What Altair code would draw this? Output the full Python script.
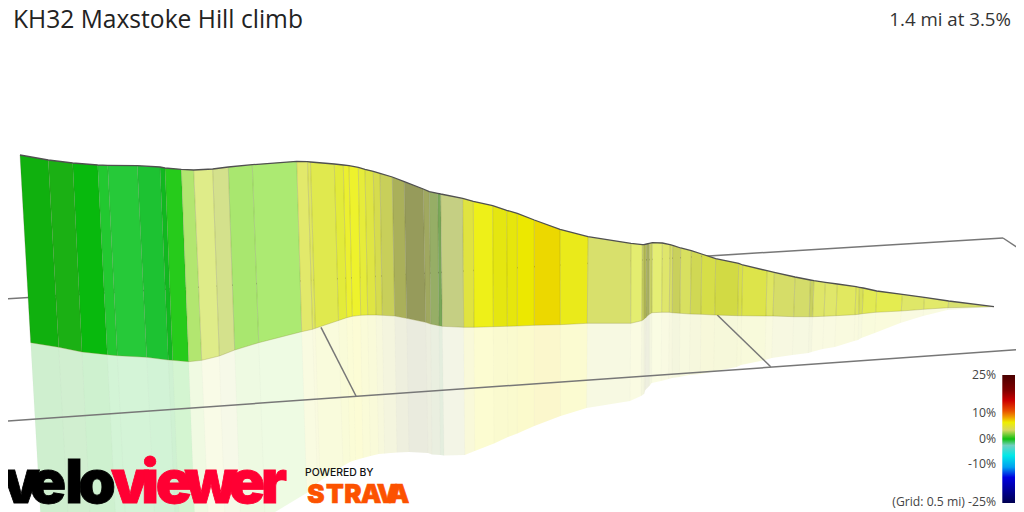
import altair as alt
import pandas as pd

TITLE = "KH32 Maxstoke Hill climb"
SUBTITLE = "1.4 mi at 3.5%"

XT = [20,48.3,72.7,97.7,107.7,137.3,160,165,181.3,193.7,212.7,228.3,252.3,296.7,307.5,310.5,334.3,343.3,349,358.3,365,373.3,380,392.3,404.3,423.3,429.3,437.7,440.7,462.7,473.3,492.7,506.7,517.3,534.3,560,588,631,642.3,644,646.7,649.3,652.3,662.3,670,672.7,680.7,691.3,701.7,715.7,738.7,742.7,767,774.3,795,810.3,814,825.3,837.3,856,859.3,863.3,876.7,902.3,924.3,948.7,994]
YT = [155,160,163,165,165.3,165.7,167,168,169.3,170,169,167,164.7,161.3,161.7,162,164,165,165.7,167.3,169.3,171.3,173.3,177,181.7,189,191.7,193.3,194,198.3,201.3,205.7,210.3,213.3,220,229.3,236.7,243.3,244.7,244.7,244,243.3,242.7,243,244.7,245.3,248,250.7,254,258.7,263.3,265,270.7,272.3,277,280,280.7,282.3,284,286.7,287.3,288,291,294.3,297.3,301,306.7]
XB = [30.7,58.7,82,107.3,117.3,146.7,168.3,172.7,188.7,201.7,219.3,234.7,258.7,301.7,312.5,315.3,338.5,346.7,352.3,360.7,367.7,376,382.3,394.7,406.7,425.7,430.7,439,442.3,463.7,474,493.3,507.3,517.3,534.3,560.3,587.3,630.7,641.7,644,646,649.3,652,661.7,669.3,672.3,680,690.3,701,714.7,737.7,741.7,766,773,793.7,809.3,812.7,824,836,855,858.7,862.3,875.7,901.3,923.7,948,994]
YB = [342.7,347.3,352,354.7,355.7,357.3,360,360.3,361.7,360.3,356,350,342.7,331.7,329.3,328.3,320.5,317.7,316.3,315.3,315,315,315.3,316,318.3,322.3,324,325.7,326.3,327.3,327.3,326.7,326.3,326,325.3,324.7,323.3,323.3,320.7,319.3,317.3,314.3,312.7,312.3,312.3,312.7,313.3,314,314.3,315,315.7,315.7,316,316,316.7,316.7,316.7,316.3,315.7,314.7,314.3,313.7,312.3,311,309.3,307.7,306.7]
XR = [41.4,69.1,91.3,116.9,126.9,156.1,176.6,180.4,196.1,209.7,225.9,241.1,265.1,306.7,317.5,320,343,350,355.6,363,370.4,378.7,384.6,397,409,428,432,440.3,444,464.7,474.7,494,508,517.3,534.3,560.6,586.6,630,641,644,645.3,649.3,651.7,661,668.6,672,679.3,689.3,700.3,713.7,736.7,741,765,771.7,792.4,808.3,811.4,822.7,834.7,854,858,861.3,874.7,900.3,923,947.3,994]
YR = [530.4,534.6,541,544.4,546.1,548.9,553,552.6,554.1,550.6,543,533,518,493,483,481,466,462,460,458,456,454,453.5,452.5,452,453,454.5,455,455.5,455,451,443.5,437,433.5,426,416,408,401,396,394,390,386,383,381,379,378,377,375,374,371.5,367,365,360,358,355,353,352,349,347,341,340,338,333,323,316,310,306.7]
COLS = ["#10b00e","#1bb014","#08b90d","#22c830","#26c939","#1dc232","#10b91f","#26cb1b","#b2e670","#dfec89","#d4e18c","#a9e76f","#acea72","#e2e96b","#dfe660","#e0e94e","#e3eb3a","#ecf030","#eef22c","#e6ec3a","#dfe543","#d6dc4e","#c8cf5a","#aab05a","#969b5b","#a0a860","#96ae66","#78a858","#c5cf83","#e0e340","#eef018","#e5e610","#e6e60c","#ece800","#ecd800","#eaea1a","#d8e06c","#e4ed70","#c8d060","#b4bb58","#a8b060","#c8d066","#e5ee74","#dfe66c","#d8de66","#c9d05c","#d8e060","#d0d854","#d6de48","#d2da44","#d9e048","#dde44a","#dfe660","#d6dd68","#d4dc6a","#c8d060","#dfe668","#e0e76a","#e1e860","#dfe65c","#d8e058","#e2ea52","#e4ec50","#dfe768","#e2e96a","#d8e070"]

GRID_X1 = [0, 1003, 0, 321, 717.3]
GRID_Y1 = [299.3, 238, 421.5, 327.3, 315]
GRID_X2 = [1003, 1024, 1024, 356, 770.7]
GRID_Y2 = [238, 252, 349.3, 396, 366.7]

LEG_LABELS = ["25%", "10%", "0%", "-10%", "(Grid: 0.5 mi) -25%"]
LEG_Y = [375, 413, 439, 464, 502]
GRAD_OFFSETS = [0, 0.12, 0.2, 0.28, 0.33, 0.37, 0.43, 0.5, 0.55, 0.63, 0.72, 0.8, 1]
GRAD_COLORS = ["#4a0000", "#800000", "#cc0000", "#e85000", "#f0a000", "#eeee00", "#d8d860", "#10c010", "#70d0c0", "#00e8e8", "#00a0f0", "#0000e0", "#000050"]

VELO = list("velo")
VELO_X = [21, 48, 74, 97]
VIEWER = list("viewer")
VIEWER_X = [130, 150, 174, 211, 247, 274]
STRAVA = list("STRAVA")
STRAVA_X = [316, 335, 353, 371, 387, 399]

xs = alt.Scale(domain=[8, 1016], range=[0, 1008], nice=False, zero=False)
ys = alt.Scale(domain=[8, 512], range=[0, 504], nice=False, zero=False)
X = alt.X("x:Q", scale=xs, axis=None)
Y = alt.Y("y:Q", scale=ys, axis=None)

def polys(xa, ya, xb, yb):
    rows = []
    for i, c in enumerate(COLS):
        pts = [(xa[i], ya[i]), (xa[i+1], ya[i+1]), (xb[i+1], yb[i+1]), (xb[i], yb[i])]
        for k, (px, py) in enumerate(pts):
            rows.append(dict(id=i, k=k, x=px, y=py, c=c))
    return pd.DataFrame(rows)

def polylayer(df, **kw):
    return alt.Chart(df).mark_line(strokeWidth=0, clip=True, **kw).encode(
        x=X, y=Y, order="k:Q", detail="id:N", fill=alt.Fill("c:N", scale=None))

def rules(x1, y1, x2, y2, **kw):
    df = pd.DataFrame(dict(x=x1, y=y1, x2=x2, y2=y2))
    return alt.Chart(df).mark_rule(clip=True, **kw).encode(x=X, y=Y, x2="x2:Q", y2="y2:Q")

def text(vals, xv, yv, **kw):
    df = pd.DataFrame(dict(t=vals, x=xv, y=yv))
    return alt.Chart(df).mark_text(**kw).encode(x=X, y=Y, text="t:N")

gradient = alt.LinearGradient(gradient="linear", x1=0, x2=0, y1=0, y2=1,
    stops=[alt.GradientStop(offset=o, color=c) for o, c in zip(GRAD_OFFSETS, GRAD_COLORS)])

layers = [
    polylayer(polys(XB, YB, XR, YR), opacity=0.2),
    rules(XB, YB, XR, YR, stroke="#888888", strokeWidth=1, opacity=0.03),
    rules(GRID_X1, GRID_Y1, GRID_X2, GRID_Y2, stroke="#777777", strokeWidth=1.5),
    polylayer(polys(XT, YT, XB, YB)),
    rules(XT, YT, XB, YB, stroke="#555533", strokeWidth=1, opacity=0.2),
    alt.Chart(pd.DataFrame(dict(x=XB, y=YB))).mark_line(stroke="#888833", strokeWidth=1, opacity=0.3).encode(x=X, y=Y),
    alt.Chart(pd.DataFrame(dict(x=XT, y=YT))).mark_line(stroke="#505050", strokeWidth=1.3).encode(x=X, y=Y),
    text([TITLE], [13], [21], align="left", baseline="middle", font="Open Sans", fontSize=24.6, color="#222222"),
    text([SUBTITLE], [1011], [20], align="right", baseline="middle", font="Open Sans", fontSize=18.7, color="#333333"),
    text(LEG_LABELS, [996]*5, LEG_Y, align="right", baseline="middle", font="Open Sans", fontSize=12.2, color="#444444"),
    alt.Chart(pd.DataFrame(dict(x=[1002.3], x2=[1015], y=[375], y2=[503]))).mark_rect(fill=gradient).encode(
        x=X, y=Y, x2="x2:Q", y2="y2:Q"),
    text(VELO, VELO_X, [503]*4, align="center", baseline="alphabetic", font="Inter", fontSize=60, fontWeight=900, color="#000000", stroke="#000000", strokeWidth=0.8),
    text(VIEWER, VIEWER_X, [503]*6, align="center", baseline="alphabetic", font="Inter", fontSize=60, fontWeight=900, color="#ff0033", stroke="#ff0033", strokeWidth=0.8),
    text(["POWERED BY"], [305], [473], align="left", baseline="middle", font="Inter", fontSize=10.4, fontWeight=500, color="#111111"),
    text(STRAVA, STRAVA_X, [503]*6, align="center", baseline="alphabetic", font="Inter", fontSize=26, fontWeight=900, color="#fc5200", stroke="#fc5200", strokeWidth=0.6),
]

chart = alt.layer(*layers).properties(
    width=1008, height=504, padding=0, autosize=alt.AutoSizeParams(type="none")
).configure_view(stroke=None)

chart.save("out.html", embed_options={"renderer": "svg", "actions": False})
